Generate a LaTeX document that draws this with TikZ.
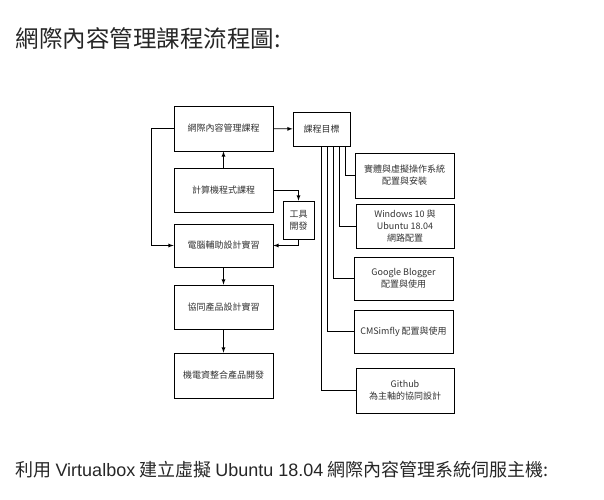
\documentclass[tikz,border=0pt]{standalone}
\usepackage{fontspec}
\setmainfont{Noto Sans CJK TC}
\newfontfamily\latfont{Liberation Sans}
\tikzset{
  box/.style={draw, line width=0.8pt, minimum width=99pt, minimum height=44pt,
    align=center, inner sep=1pt, text=black!80, font=\fontsize{9}{12}\selectfont},
  link/.style={line width=0.8pt}
}
\begin{document}
\begin{tikzpicture}[x=1pt,y=-1pt]
        \useasboundingbox (0,0) rectangle (604,499);
        \node[anchor=west, text=black!85, font=\fontsize{23.5}{26}\selectfont] (title) at (12,38) {網際內容管理課程流程圖:};
        \node[anchor=west, text=black!85, font=\fontsize{18}{20}\selectfont] (note) at (12,470) {利用 {\latfont Virtualbox} 建立虛擬 {\latfont Ubuntu 18.04} 網際內容管理系統伺服主機:};

        % left column
        \node[box, minimum height=45pt] (cms) at (223.5,128.5) {網際內容管理課程};
        \node[box] (prog) at (223.5,190) {計算機程式課程};
        \node[box, minimum height=43pt] (cad) at (223.5,245.5) {電腦輔助設計實習};
        \node[box] (collab) at (223.5,307) {協同產品設計實習};
        \node[box, minimum height=45pt] (mech) at (223.5,375.5) {機電資整合產品開發};
        \node[box, minimum width=31pt, minimum height=38pt] (tool) at (298.5,220) {工具\\開發};

        % goals
        \node[box, minimum width=57pt, minimum height=34pt] (goal) at (321.5,129) {課程目標};
        \node[box, minimum height=45pt] (g1) at (404.5,175.5) {實體與虛擬操作系統\\配置與安裝};
        \node[box, minimum width=98pt] (g2) at (405,226) {Windows 10 與\\Ubuntu 18.04\\網路配置};
        \node[box, minimum height=43pt] (g3) at (403.5,278.5) {Google Blogger\\配置與使用};
        \node[box, minimum height=43pt] (g4) at (403.5,331.5) {CMSimfly 配置與使用};
        \node[box, minimum width=98pt, minimum height=45pt] (g5) at (405,390.5) {Github\\為主軸的協同設計};

        \draw[link,-latex] (cms) -- (goal);
        \draw[link,-latex] (prog) -- (cms);
        \draw[link,-latex] (cms.west) -- ++(-22,0) |- (cad.west);
        \draw[link,-latex] (prog.east) -| (tool.north);
        \draw[link,-latex] (tool.south) |- (cad.east);
        \draw[link,-latex] (cad) -- (collab);
        \draw[link,-latex] (collab) -- (mech);

        \foreach \dx/\t in {23.5/g1, 17.5/g2, 11.5/g3, 5.5/g4, -0.5/g5}
        \draw[link] ([xshift=\dx]goal.south) |- (\t.west);

    \end{tikzpicture}
\end{document}
